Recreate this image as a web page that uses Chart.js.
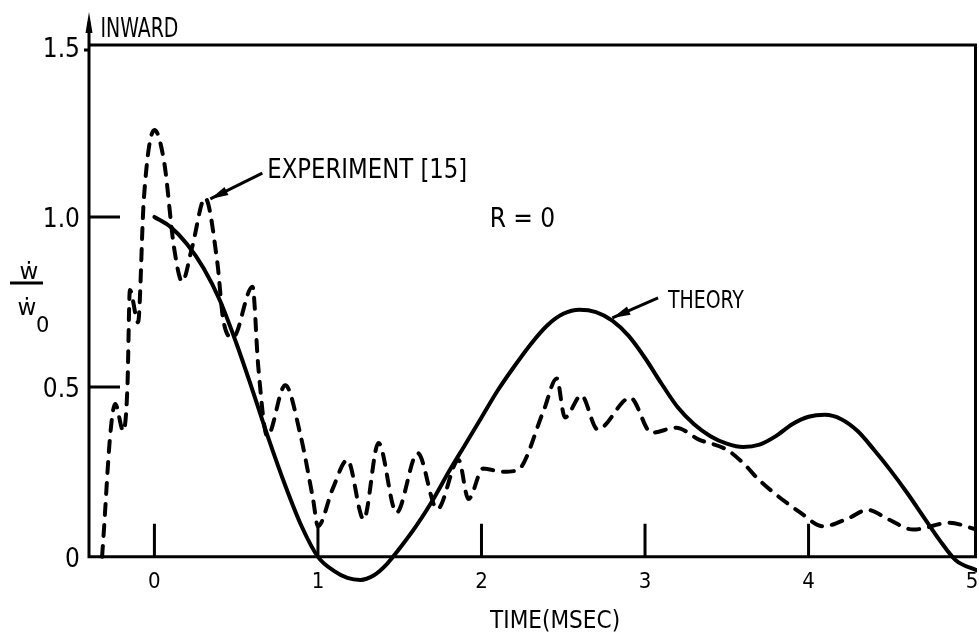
<!DOCTYPE html>
<html><head><meta charset="utf-8">
<script src="https://cdn.jsdelivr.net/npm/chart.js@4"></script>
<style>html,body{margin:0;padding:0;background:#fff;overflow:hidden} #wrap{width:979px;height:638px;position:relative}</style>
</head><body><div id="wrap"><canvas id="c" width="979" height="638"></canvas></div>
<script>
// ---- data (time in msec, normalized velocity) ----
const theoryX = [0, 0.1, 0.2, 0.3, 0.4, 0.5, 0.6, 0.7, 0.8, 0.9, 1.0, 1.1, 1.18, 1.26, 1.34, 1.42, 1.5, 1.6, 1.7, 1.8, 1.9, 2.0, 2.1, 2.2, 2.3, 2.4, 2.5, 2.6, 2.7, 2.8, 2.9, 3.0, 3.1, 3.2, 3.3, 3.4, 3.5, 3.6, 3.7, 3.8, 3.9, 4.0, 4.1, 4.2, 4.3, 4.4, 4.5, 4.6, 4.7, 4.8, 4.9, 5.03];
const theoryY = [1.0, 0.97, 0.92, 0.85, 0.755, 0.63, 0.49, 0.345, 0.21, 0.09, 0.0, -0.042, -0.062, -0.068, -0.055, -0.022, 0.025, 0.09, 0.165, 0.25, 0.33, 0.41, 0.49, 0.56, 0.625, 0.68, 0.715, 0.727, 0.72, 0.695, 0.65, 0.585, 0.51, 0.44, 0.39, 0.355, 0.333, 0.323, 0.33, 0.355, 0.39, 0.412, 0.418, 0.405, 0.37, 0.315, 0.255, 0.19, 0.12, 0.05, -0.01, -0.04];

const expX = [-0.32, -0.31, -0.27, -0.24, -0.19, -0.165, -0.15, -0.1, -0.065, 0.0, 0.06, 0.12, 0.17, 0.23, 0.31, 0.385, 0.42, 0.48, 0.6, 0.635, 0.69, 0.8, 0.89, 0.97, 1.0, 1.09, 1.18, 1.28, 1.37, 1.48, 1.61, 1.73, 1.86, 1.92, 2.01, 2.13, 2.22, 2.38, 2.46, 2.51, 2.61, 2.71, 2.91, 3.04, 3.19, 3.33, 3.5, 3.6, 3.7, 3.95, 4.09, 4.25, 4.36, 4.49, 4.64, 4.86, 5.03];
const expY = [0.0, 0.07, 0.36, 0.45, 0.37, 0.5, 0.785, 0.69, 1.05, 1.256, 1.16, 0.91, 0.81, 0.91, 1.056, 0.865, 0.70, 0.645, 0.795, 0.56, 0.355, 0.505, 0.365, 0.17, 0.09, 0.2, 0.285, 0.11, 0.335, 0.13, 0.305, 0.14, 0.285, 0.17, 0.26, 0.25, 0.255, 0.43, 0.525, 0.41, 0.475, 0.375, 0.468, 0.365, 0.38, 0.345, 0.315, 0.276, 0.225, 0.13, 0.09, 0.115, 0.138, 0.11, 0.08, 0.1, 0.08];

const xTickValues = [0, 1, 2, 3, 4, 5];
const xTickLabels = ['0', '1', '2', '3', '4', '5'];
const yTickValues = [0, 0.5, 1.0, 1.5];
const yTickLabels = ['0', '0.5', '1.0', '1.5'];

const xAxisTitle = 'TIME(MSEC)';
const topLabel = 'INWARD';
const experimentLabel = 'EXPERIMENT [15]';
const theoryLabel = 'THEORY';
const paramLabel = 'R = 0';

// ---- layout / styling ----
const FONT = '"Liberation Sans Narrow","DejaVu Sans Condensed","Arial Narrow","DejaVu Sans",sans-serif';
const X_MIN = -0.4, X_MAX = 5.03, Y_MIN = -0.08, Y_MAX = 1.506;

// annotation anchors in data units
const ann = {
  inward: {x: -0.33, y: 1.529},
  arrowTopY: 1.603,
  expText: {x: 0.69, y: 1.115},
  expArrowFrom: {x: 0.66, y: 1.129}, expArrowTo: {x: 0.342, y: 1.053},
  rText: {x: 2.05, y: 0.971},
  thText: {x: 3.14, y: 0.732},
  thArrowFrom: {x: 3.08, y: 0.762}, thArrowTo: {x: 2.80, y: 0.703},
  xTitle: {x: 2.45, y: -0.209}
};

function txt(ctx, s, x, y, size, maxW, align, family) {
  ctx.font = size + 'px ' + (family || FONT);
  ctx.textAlign = align || 'left';
  ctx.textBaseline = 'alphabetic';
  if (maxW) ctx.fillText(s, x, y, maxW); else ctx.fillText(s, x, y);
}
function arrow(ctx, x1, y1, x2, y2, len, hw) {
  ctx.beginPath(); ctx.moveTo(x1, y1); ctx.lineTo(x2, y2); ctx.stroke();
  const a = Math.atan2(y2 - y1, x2 - x1);
  const bx = x2 - len * Math.cos(a), by = y2 - len * Math.sin(a);
  ctx.beginPath();
  ctx.moveTo(x2, y2);
  ctx.lineTo(bx + hw * Math.sin(a), by - hw * Math.cos(a));
  ctx.lineTo(bx - hw * Math.sin(a), by + hw * Math.cos(a));
  ctx.closePath(); ctx.fill();
}

const framePlugin = {
  id: 'frame',
  beforeDraw(chart) {
    const c = chart.ctx; c.save(); c.fillStyle = '#fff'; c.fillRect(0, 0, chart.width, chart.height); c.restore();
  },
  afterDatasetsDraw(chart) {
    const c = chart.ctx, xs = chart.scales.x, ys = chart.scales.y;
    const px = v => xs.getPixelForValue(v), py = v => ys.getPixelForValue(v);
    const L = px(X_MIN), R = px(X_MAX), T = py(Y_MAX), B = py(0);
    c.save();
    c.strokeStyle = '#000'; c.fillStyle = '#000'; c.lineWidth = 3; c.lineCap = 'butt';
    c.beginPath();
    c.moveTo(L, py(ann.arrowTopY) + 10); c.lineTo(L, B);
    c.moveTo(L - 1.5, B); c.lineTo(R, B);
    c.moveTo(L, T); c.lineTo(R, T);
    c.moveTo(R - 1.5, T); c.lineTo(R - 1.5, B);
    c.stroke();
    const tipY = py(ann.arrowTopY);
    c.beginPath(); c.moveTo(L, tipY); c.lineTo(L - 3.5, tipY + 21); c.lineTo(L + 3.5, tipY + 21); c.closePath(); c.fill();
    c.lineWidth = 3;
    c.beginPath();
    yTickValues.forEach(v => { if (v > 0 && v < 1.5) { c.moveTo(L, py(v)); c.lineTo(L + 31, py(v)); } });
    xTickValues.forEach(v => { if (v < 5) { c.moveTo(px(v), B); c.lineTo(px(v), B - 33); } });
    c.moveTo(L - 5, py(1.5) + 3); c.lineTo(L, py(1.5) + 3);
    c.stroke();
    yTickValues.forEach((v, i) => txt(c, yTickLabels[i], L - 9, py(v) + 10, 26, 40, 'right'));
    xTickValues.forEach((v, i) => txt(c, xTickLabels[i], px(v), B + 31, 22, null, 'center'));
    txt(c, xAxisTitle, px(ann.xTitle.x), py(ann.xTitle.y), 25, 130, 'center');
    txt(c, '\u1E87', L - 60, 279, 23, null, 'center', '"DejaVu Sans",sans-serif');
    c.lineWidth = 3; c.beginPath(); c.moveTo(L - 79, 283); c.lineTo(L - 46, 283); c.stroke();
    txt(c, '\u1E87', L - 62, 315, 23, null, 'center', '"DejaVu Sans",sans-serif');
    txt(c, '0', L - 53, 332, 21, null, 'left', '"DejaVu Sans",sans-serif');
    txt(c, topLabel, px(ann.inward.x), py(ann.inward.y), 27, 78, 'left');
    txt(c, experimentLabel, px(ann.expText.x), py(ann.expText.y), 27, 200, 'left');
    txt(c, paramLabel, px(ann.rText.x), py(ann.rText.y), 26, 68, 'left');
    txt(c, theoryLabel, px(ann.thText.x), py(ann.thText.y), 25, 76, 'left');
    c.lineWidth = 3;
    arrow(c, px(ann.expArrowFrom.x), py(ann.expArrowFrom.y), px(ann.expArrowTo.x), py(ann.expArrowTo.y), 18, 4.5);
    arrow(c, px(ann.thArrowFrom.x), py(ann.thArrowFrom.y), px(ann.thArrowTo.x), py(ann.thArrowTo.y), 18, 4.5);
    c.restore();
  }
};

const toPts = (xa, ya) => xa.map((x, i) => ({x: x, y: ya[i]}));

new Chart(document.getElementById('c'), {
  type: 'line',
  data: {
    datasets: [
      { label: 'Theory', data: toPts(theoryX, theoryY), borderColor: '#000', borderWidth: 4,
        pointRadius: 0, cubicInterpolationMode: 'monotone', borderCapStyle: 'round', borderJoinStyle: 'round', fill: false },
      { label: 'Experiment [15]', data: toPts(expX, expY), borderColor: '#000', borderWidth: 4,
        borderDash: [11, 10], borderCapStyle: 'round', borderJoinStyle: 'round',
        pointRadius: 0, cubicInterpolationMode: 'monotone', fill: false }
    ]
  },
  options: {
    responsive: false, animation: false, events: [],
    layout: { padding: { left: 89, right: 2, top: 45, bottom: 54 } },
    plugins: { legend: { display: false }, tooltip: { enabled: false } },
    scales: {
      x: { type: 'linear', min: X_MIN, max: X_MAX, display: false },
      y: { type: 'linear', min: Y_MIN, max: Y_MAX, display: false }
    }
  },
  plugins: [framePlugin]
});
</script></body></html>
